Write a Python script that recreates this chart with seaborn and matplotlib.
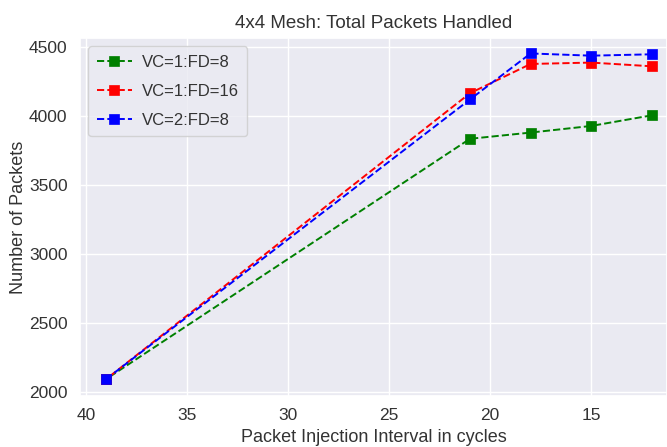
import matplotlib
matplotlib.use("Agg")
import matplotlib.pyplot as plt
import seaborn as sns
import pandas as pd

intervals = [39, 21, 18, 15, 12]
vc1_fd8 = [2095, 3835, 3880, 3928, 4005]
vc1_fd16 = [2095, 4165, 4377, 4387, 4360]
vc2_fd8 = [2095, 4120, 4453, 4437, 4447]
labels = ["VC=1:FD=8", "VC=1:FD=16", "VC=2:FD=8"]
colors = ["green", "red", "blue"]
xticks = [40, 35, 30, 25, 20, 15]
yticks = [2000, 2500, 3000, 3500, 4000, 4500]

sns.set_theme(style="darkgrid")
plt.rcParams['font.family'] = ['Liberation Sans', 'DejaVu Sans']

fig = plt.figure(figsize=(6.67, 4.47), dpi=100)
ax = fig.add_axes([80/667, (447-396)/447, (667-80)/667, (396-38)/447])

series = [vc1_fd8, vc1_fd16, vc2_fd8]
for lab, col, vals in zip(labels, colors, series):
    df = pd.DataFrame({"x": intervals, "y": vals})
    sns.lineplot(data=df, x="x", y="y", ax=ax, color=col, linestyle="--",
                 marker="s", markersize=7, markeredgecolor=col,
                 markeredgewidth=0.5, linewidth=1.4, label=lab)

ax.set_xlim(40.3, 11.25)
ax.set_ylim(1972, 4565)
ax.set_xticks(xticks)
ax.set_yticks(yticks)
ax.tick_params(labelsize=12.5, pad=3, labelcolor="#333333")
ax.set_xlabel("Packet Injection Interval in cycles", fontsize=13, color="#333333", labelpad=4)
ax.set_ylabel("Number of Packets", fontsize=13, color="#333333", labelpad=1)
ax.set_title("4x4 Mesh: Total Packets Handled", fontsize=13.5, color="#333333", pad=7)
leg = ax.legend(loc="upper left", fontsize=12, labelspacing=0.85,
                borderaxespad=0.5, borderpad=0.5, handlelength=2.1,
                handletextpad=0.6)
for t in leg.get_texts():
    t.set_color("#333333")

fig.savefig("out.png", dpi=100)
